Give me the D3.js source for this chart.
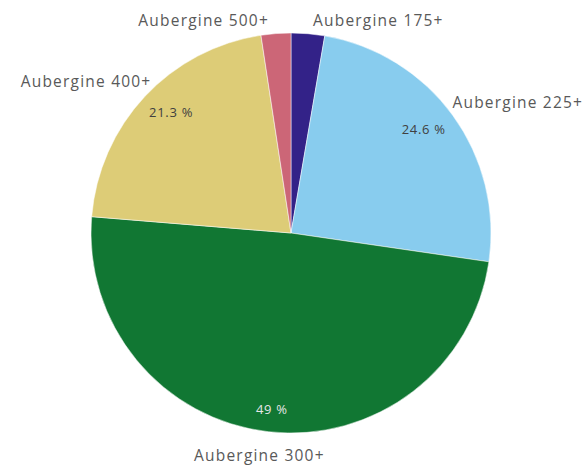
<!DOCTYPE html>
<html>
<head>
<meta charset="utf-8">
<script src="https://cdn.jsdelivr.net/npm/d3@7"></script>
<style>
  body { margin: 0; background: #fff; }
  svg { display: block; font-family: "Open Sans", sans-serif; }
</style>
</head>
<body>
<svg id="chart" width="588" height="470"></svg>
<script>
// slices, clockwise from 12 o'clock
const categories = ["Aubergine 175+", "Aubergine 225+", "Aubergine 300+", "Aubergine 400+", "Aubergine 500+"];
const shares = [2.7, 24.6, 49, 21.3, 2.4];
const colors = ["#332288", "#88ccee", "#117733", "#ddcc77", "#cc6677"];
const pctColors = ["#404040", "#404040", "#e6e6e6", "#404040", "#404040"];

var width = 588,
  height = 470,
  cx = 291,
  cy = 233,
  radius = 200;

var svg = d3.select("#chart");
var g = svg.append("g").attr("transform", "translate(" + cx + "," + cy + ")");

var data = categories.map((c, i) => ({ name: c, value: shares[i], i: i }));

var pie = d3.pie().sort(null).value((d) => d.value);
var arcs = pie(data);
var arc = d3.arc().innerRadius(0).outerRadius(radius);

g.selectAll("path")
  .data(arcs)
  .enter()
  .append("path")
  .attr("d", arc)
  .attr("fill", (d) => colors[d.data.i])
  .attr("stroke", "#fff")
  .attr("stroke-width", 0.5);

var mid = (d) => (d.startAngle + d.endAngle) / 2;

// percentage labels inside the bigger slices, box pulled inward from radius-14
var pctR = radius - 14;
var pct = g.selectAll("text.pct")
  .data(arcs.filter((d) => d.data.value > 10))
  .enter()
  .append("text")
  .attr("class", "pct")
  .attr("font-size", 13)
  .attr("letter-spacing", 0.7)
  .attr("fill", (d) => pctColors[d.data.i])
  .attr("text-anchor", "middle")
  .attr("dominant-baseline", "central")
  .text((d) => d3.format(".3~")(d.data.value) + " %");

pct.each(function (d) {
  var a = mid(d), s = Math.sin(a), c = Math.cos(a);
  var b = this.getBBox();
  var x = pctR * s - s * b.width / 2,
    y = -pctR * c + c * b.height / 2;
  d3.select(this).attr("x", x).attr("y", y);
});

// outside category labels, boxes pushed outward from radius+15
var lblR = radius + 15;
var labels = g.selectAll("text.lbl")
  .data(arcs)
  .enter()
  .append("text")
  .attr("class", "lbl")
  .attr("font-size", 15.5)
  .attr("letter-spacing", 1.2)
  .attr("fill", "#595959")
  .attr("dominant-baseline", "central")
  .text((d) => d.data.name);

var boxes = [];
labels.each(function (d) {
  var a = mid(d), s = Math.sin(a), c = Math.cos(a);
  var b = this.getBBox();
  var left = lblR * s + (s - 1) / 2 * b.width,
    yc = -lblR * c - c * 8;
  // keep inside the top of the view
  yc = Math.max(yc, -cy + 20);
  boxes.push({ el: this, left: left, w: b.width, y: yc, s: s });
});

// simple collision fix: overlapping labels on the same row go either side of the center
var gap = 44;
for (var i = 0; i < boxes.length; i++) {
  for (var j = i + 1; j < boxes.length; j++) {
    var p = boxes[i], q = boxes[j];
    if (Math.abs(p.y - q.y) > 16) continue;
    var l = p.s < q.s ? p : q, r = l === p ? q : p;
    if (l.left + l.w + gap > r.left) {
      l.left = -gap / 2 - l.w;
      r.left = gap / 2;
    }
  }
}

boxes.forEach((b) => {
  d3.select(b.el).attr("x", b.left).attr("y", b.y);
});
</script>
</body>
</html>
